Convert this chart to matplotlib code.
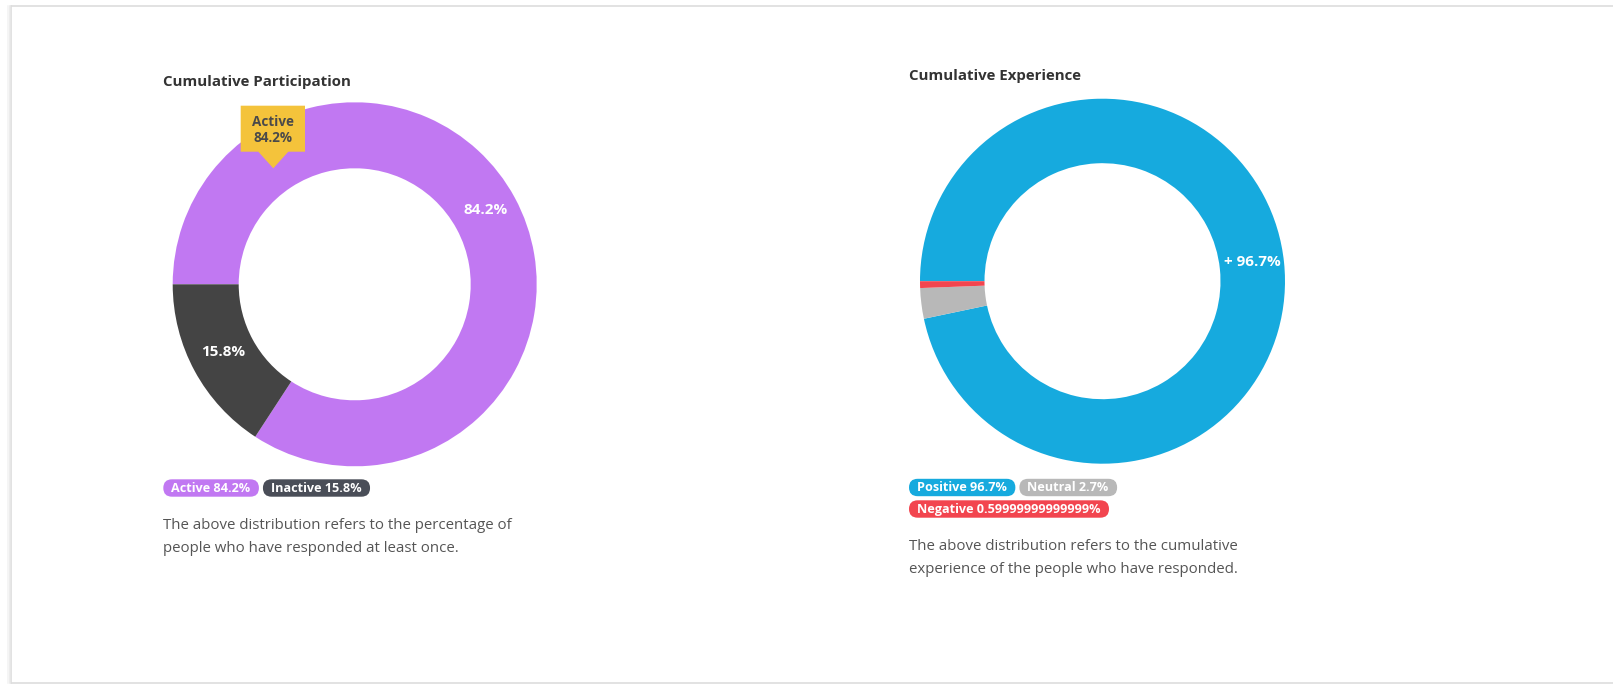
import matplotlib.pyplot as plt
from matplotlib.patches import FancyBboxPatch, Polygon
import numpy as np

plt.rcParams['font.family'] = ['Open Sans', 'DejaVu Sans']

# participation donut
participation_labels = ["Active", "Inactive"]
participation_values = [84.2, 15.8]
participation_colors = ["#c178f2", "#444444"]
participation_pill_colors = ["#c178f2", "#4a4e58"]

# experience donut
experience_labels = ["Positive", "Neutral", "Negative"]
experience_values = [96.7, 2.7, 0.59999999999999]
experience_colors = ["#16aade", "#b8b8b8", "#f2454f"]

W, H = 1613, 685
PX = 0.72  # px -> pt at 100 dpi


def Y(y):
    return H - y


fig = plt.figure(figsize=(W / 100, H / 100), dpi=100)
ax = fig.add_axes([0, 0, 1, 1])

# card outline with a soft left shadow
edge = "#e2e2e2"
ax.plot([11, W + 5], [Y(6), Y(6)], color=edge, lw=2 * PX, solid_capstyle='butt')
ax.plot([11, W + 5], [Y(683), Y(683)], color=edge, lw=2 * PX, solid_capstyle='butt')
for dx, c in [(0, "#dcdcdc"), (-1.5, "#e8e8e8"), (-3, "#f3f3f3")]:
    ax.plot([11 + dx, 11 + dx], [Y(6), Y(683)], color=c, lw=1.6 * PX)


def donut(values, colors, cx, cy, R, r, labels):
    wedges, _ = ax.pie(values, colors=colors, startangle=180, counterclock=False,
                       radius=R, center=(cx, Y(cy)),
                       wedgeprops=dict(width=R - r, linewidth=0))
    rr = (R + r) / 2
    for w, lab in zip(wedges, labels):
        if not lab:
            continue
        mid = np.deg2rad((w.theta1 + w.theta2) / 2)
        # data labels sit a little above the ring's mid line
        ax.text(cx + rr * np.cos(mid), Y(cy) + rr * np.sin(mid) + 3.5, lab,
                ha='center', va='center', color='white', fontsize=15.3 * PX,
                fontweight='bold')
    return wedges


donut(participation_values, participation_colors, 354.7, 284.3, 182, 116,
      [f"{v}%" for v in participation_values])
donut(experience_values, experience_colors, 1102.5, 281.2, 182.5, 118,
      [f"+ {experience_values[0]}%", "", ""])

# titles
ax.text(163, Y(81.5), "Cumulative Participation", fontsize=15 * PX,
        fontweight='bold', color="#333333", ha='left', va='center')
ax.text(909, Y(75.5), "Cumulative Experience", fontsize=15 * PX,
        fontweight='bold', color="#333333", ha='left', va='center')

# tooltip on the active slice
tip = Polygon([(240.7, Y(105.7)), (305, Y(105.7)), (305, Y(151.7)),
               (288.3, Y(151.7)), (273.3, Y(168.3)), (258.3, Y(151.7)),
               (240.7, Y(151.7))], closed=True, facecolor="#f4c33b",
              edgecolor='none', zorder=5)
ax.add_patch(tip)
ax.text(273, Y(130),
        f"{participation_labels[0]}\n{participation_values[0]}%",
        ha='center', va='center', fontsize=13.5 * PX, fontweight='bold',
        color="#4a4a4a", linespacing=1.2, zorder=6)

renderer = fig.canvas.get_renderer()


def pills(rows, x0):
    for y, items in rows:
        x = x0
        for text, col in items:
            t = ax.text(x + 8, Y(y), text, ha='left', va='center', color='white',
                        fontsize=12.6 * PX, fontweight='bold', zorder=4)
            bb = t.get_window_extent(renderer)
            w = bb.width + 16.5
            ax.add_patch(FancyBboxPatch((x, Y(y) - 8.7), w, 17.4,
                                        boxstyle="round,pad=0,rounding_size=8.7",
                                        facecolor=col, edgecolor='none', zorder=3))
            x += w + 4


pills([(488, [(f"{lab} {v}%", c) for lab, v, c in
              zip(participation_labels, participation_values, participation_pill_colors)])],
      163.3)

exp_items = [(f"{lab} {v}%", c) for lab, v, c in
             zip(experience_labels, experience_values, experience_colors)]
pills([(487.5, exp_items[:2]), (509, exp_items[2:])], 909)

# notes
note = dict(fontsize=15 * PX, color="#555555", ha='left', va='center')
ax.text(163, Y(525.5), "The above distribution refers to the percentage of", **note)
ax.text(163, Y(548), "people who have responded at least once.", **note)
ax.text(909, Y(547), "The above distribution refers to the cumulative", **note)
ax.text(909, Y(569.5), "experience of the people who have responded.", **note)

ax.set_xlim(0, W)
ax.set_ylim(0, H)
ax.set_aspect('auto')
ax.axis('off')

fig.savefig("out.png", dpi=100)
